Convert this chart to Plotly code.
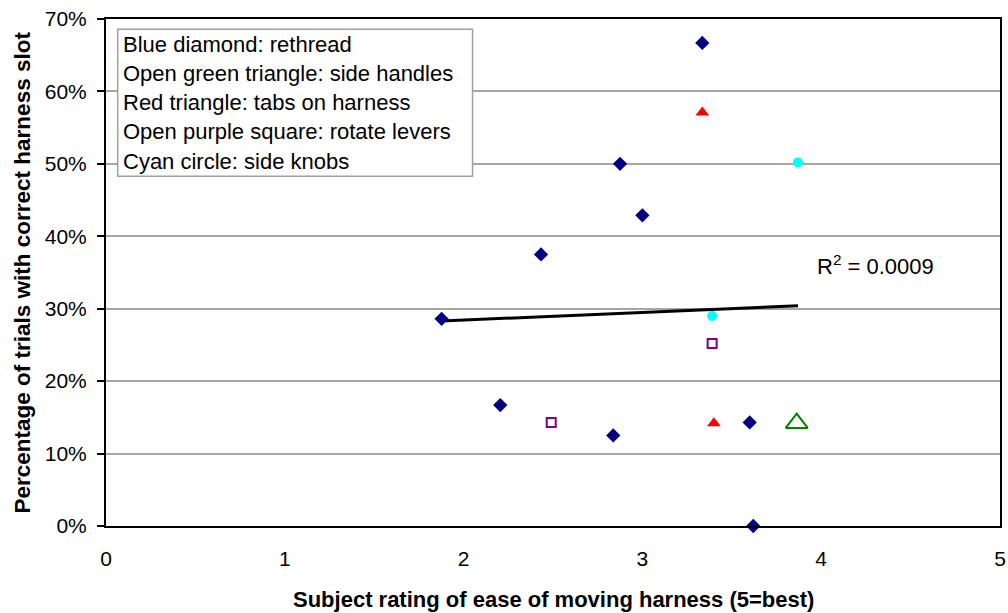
import numpy as np
import plotly.graph_objects as go

# ---- data ----
blue_x = [3.335, 2.875, 3.00, 2.433, 1.877, 2.205, 2.837, 3.60, 3.62]
blue_y = [0.667, 0.500, 0.429, 0.375, 0.286, 0.167, 0.125, 0.143, 0.0]

red_x = [3.335, 3.40]
red_y = [0.571, 0.142]

green_x = [3.863]
green_y = [0.142]

purple_x = [3.39, 2.49]
purple_y = [0.252, 0.143]

cyan_x = [3.87, 3.39]
cyan_y = [0.502, 0.290]

legend_lines = [
    "Blue diamond: rethread",
    "Open green triangle: side handles",
    "Red triangle: tabs on harness",
    "Open purple square: rotate levers",
    "Cyan circle: side knobs",
]
r2_label = "R<sup>2</sup> = 0.0009"
x_title = "Subject rating of ease of moving harness (5=best)"
y_title = "Percentage of trials with correct harness slot"
x_ticks = [0, 1, 2, 3, 4, 5]
y_ticks = [0, 0.1, 0.2, 0.3, 0.4, 0.5, 0.6, 0.7]

# linear trend over all points
all_x = np.array(blue_x + red_x + green_x + purple_x + cyan_x)
all_y = np.array(blue_y + red_y + green_y + purple_y + cyan_y)
slope, intercept = np.polyfit(all_x, all_y, 1)
tx = np.array([all_x.min(), all_x.max()])
ty = slope * tx + intercept

FONT = "Liberation Sans, Arial, sans-serif"

fig = go.Figure()
fig.add_trace(go.Scatter(x=tx, y=ty, mode="lines",
                         line=dict(color="black", width=3), showlegend=False))
fig.add_trace(go.Scatter(x=blue_x, y=blue_y, mode="markers",
                         marker=dict(symbol="diamond", size=11, color="#000080"),
                         showlegend=False, cliponaxis=False))
fig.add_trace(go.Scatter(x=red_x, y=red_y, mode="markers",
                         marker=dict(symbol="triangle-up", size=12, color="#FF0000"),
                         showlegend=False))
fig.add_trace(go.Scatter(x=green_x, y=green_y, mode="markers",
                         marker=dict(symbol="triangle-up-open", size=19, color="#008000",
                                     line=dict(width=2)),
                         showlegend=False))
fig.add_trace(go.Scatter(x=purple_x, y=purple_y, mode="markers",
                         marker=dict(symbol="square-open", size=9, color="#800080",
                                     line=dict(width=2)),
                         showlegend=False))
fig.add_trace(go.Scatter(x=cyan_x, y=cyan_y, mode="markers",
                         marker=dict(symbol="circle", size=10, color="#00FFFF"),
                         showlegend=False))

# legend-like text box
box_l, box_r, box_t, box_b = 0.0131, 0.410, 0.980, 0.690
fig.add_shape(type="rect", xref="paper", yref="paper",
              x0=box_l, x1=box_r, y0=box_b, y1=box_t,
              line=dict(color="#A0A0A0", width=1.5), fillcolor="white", layer="above")
line_ys = [0.950, 0.892, 0.836, 0.778, 0.719]
for txt, yy in zip(legend_lines, line_ys):
    fig.add_annotation(xref="paper", yref="paper", x=0.0168, y=yy, text=txt,
                       showarrow=False, xanchor="left", yanchor="middle",
                       font=dict(family=FONT, size=22, color="black"))

fig.add_annotation(x=3.965, y=0.36, text=r2_label, showarrow=False,
                   xanchor="left", yanchor="middle",
                   font=dict(family=FONT, size=22, color="black"))

# axis titles
fig.add_annotation(xref="paper", yref="paper", x=0.5, y=-0.144,
                   text="<b>" + x_title + "</b>", showarrow=False,
                   xanchor="center", yanchor="middle",
                   font=dict(family=FONT, size=22, color="black"))
fig.add_annotation(xref="paper", yref="paper", x=(22 - 106) / 894, y=0.5,
                   text="<b>" + y_title + "</b>", showarrow=False, textangle=-90,
                   xanchor="center", yanchor="middle",
                   font=dict(family=FONT, size=22.5, color="black"))

fig.update_layout(
    width=1008, height=613,
    margin=dict(l=106, r=8, t=19, b=87),
    paper_bgcolor="white", plot_bgcolor="white",
    font=dict(family=FONT, size=21, color="black"),
    xaxis=dict(range=[0, 5], tickvals=x_ticks, ticktext=[str(v) for v in x_ticks],
               showgrid=False, zeroline=False, showline=True, linecolor="black",
               linewidth=2, mirror=True, ticks="", ticklabelstandoff=13,
               tickfont=dict(family=FONT, size=21), automargin=False,
               ticklabeloverflow="allow"),
    yaxis=dict(range=[0, 0.7], tickvals=y_ticks, tickformat=".0%",
               showgrid=True, gridcolor="#A6A6A6", gridwidth=1.5, zeroline=False,
               showline=True, linecolor="black", linewidth=2, mirror=True,
               ticks="outside", ticklen=7, tickwidth=1.5, tickcolor="black",
               ticklabelstandoff=6, tickfont=dict(family=FONT, size=21),
               automargin=False, ticklabeloverflow="allow"),
)

fig.write_html(
    "out.html",
    config={"displayModeBar": False},
    post_script="document.body.style.margin='0';document.body.style.overflow='hidden';",
)
